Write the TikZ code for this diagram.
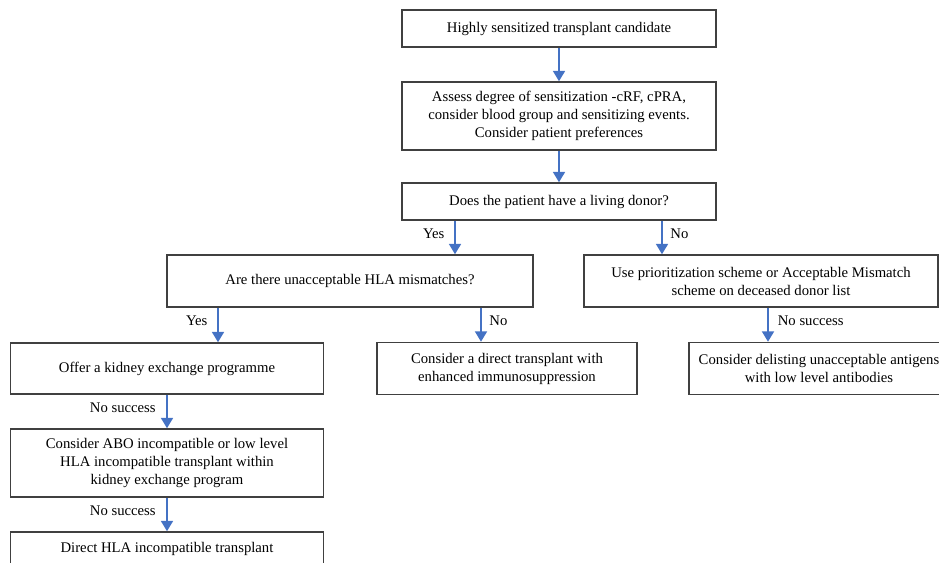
\documentclass[tikz,border=0pt]{standalone}
\usepackage{fontspec}
\setmainfont{Liberation Serif}
\usepackage{xcolor}
\usetikzlibrary{arrows.meta}
\definecolor{flowblue}{RGB}{68,114,196}
\definecolor{boxgray}{RGB}{64,64,64}
\newcommand\pxlen[1]{#1*0.68pt}
\tikzset{
  flowbox/.style={draw=boxgray, line width=1pt, align=center, inner sep=0pt,
    font=\fontsize{10}{12.2}\selectfont},
  flowarr/.style={flowblue, line width=1.4pt, -{Triangle[width=8pt,length=7pt]}},
  flowlbl/.style={black, font=\fontsize{10}{12}\selectfont, inner sep=0pt}
}

\begin{document}
\begin{tikzpicture}[x=0.68pt, y=-0.68pt]
  \useasboundingbox (0,0) rectangle (939,562);
  % Top column: candidate and donor question
  \node[flowbox, minimum width=\pxlen{314}, minimum height=\pxlen{37}] (cand) at (559,28.5)
    {Highly sensitized transplant candidate};
  \node[flowbox, minimum width=\pxlen{314}, minimum height=\pxlen{68}] (assess) at (559,116)
    {Assess degree of sensitization -cRF, cPRA,\\ consider blood group and sensitizing events.\\ Consider patient preferences};
  \node[flowbox, minimum width=\pxlen{314}, minimum height=\pxlen{37}] (donor) at (559,201.5)
    {Does the patient have a living donor?};
  % Second row
  \node[flowbox, minimum width=\pxlen{366}, minimum height=\pxlen{52}] (hla) at (350,281)
    {Are there unacceptable HLA mismatches?};
  \node[flowbox, minimum width=\pxlen{354}, minimum height=\pxlen{52}] (prio) at (761,281)
    {Use prioritization scheme or Acceptable Mismatch\\ scheme on deceased donor list};
  % Third row
  \node[flowbox, minimum width=\pxlen{313}, minimum height=\pxlen{51}] (kex) at (167,368.5)
    {Offer a kidney exchange programme};
  \node[flowbox, minimum width=\pxlen{260}, minimum height=\pxlen{52}] (direct) at (507,368.5)
    {Consider a direct transplant with\\ enhanced immunosuppression};
  \node[flowbox, minimum width=\pxlen{260}, minimum height=\pxlen{52}] (delist) at (819,368.5)
    {Consider delisting unacceptable antigens\\ with low level antibodies};
  % Left column, lower part
  \node[flowbox, minimum width=\pxlen{313}, minimum height=\pxlen{68}] (abo) at (167,463)
    {Consider ABO incompatible or low level\\ HLA incompatible transplant within\\ kidney exchange program};
  \node[flowbox, minimum width=\pxlen{313}, minimum height=\pxlen{34}] (hlai) at (167,549)
    {Direct HLA incompatible transplant};
  % Arrows
  \draw[flowarr] (cand.south) -- (assess.north);
  \draw[flowarr] (assess.south) -- (donor.north);
  \draw[flowarr] (455,0 |- donor.south) -- node[flowlbl, pos=0.38, left=6.5pt] {Yes} (455,0 |- hla.north);
  \draw[flowarr] (662,0 |- donor.south) -- node[flowlbl, pos=0.38, right=5pt] {No} (662,0 |- prio.north);
  \draw[flowarr] (218,0 |- hla.south) -- node[flowlbl, pos=0.38, left=6.5pt] {Yes} (218,0 |- kex.north);
  \draw[flowarr] (481,0 |- hla.south) -- node[flowlbl, pos=0.38, right=5pt] {No} (481,0 |- direct.north);
  \draw[flowarr] (768,0 |- prio.south) -- node[flowlbl, pos=0.38, right=6pt] {No success} (768,0 |- delist.north);
  \draw[flowarr] (kex.south) -- node[flowlbl, pos=0.38, left=7pt] {No success} (abo.north);
  \draw[flowarr] (abo.south) -- node[flowlbl, pos=0.38, left=7pt] {No success} (hlai.north);
\end{tikzpicture}
\end{document}
